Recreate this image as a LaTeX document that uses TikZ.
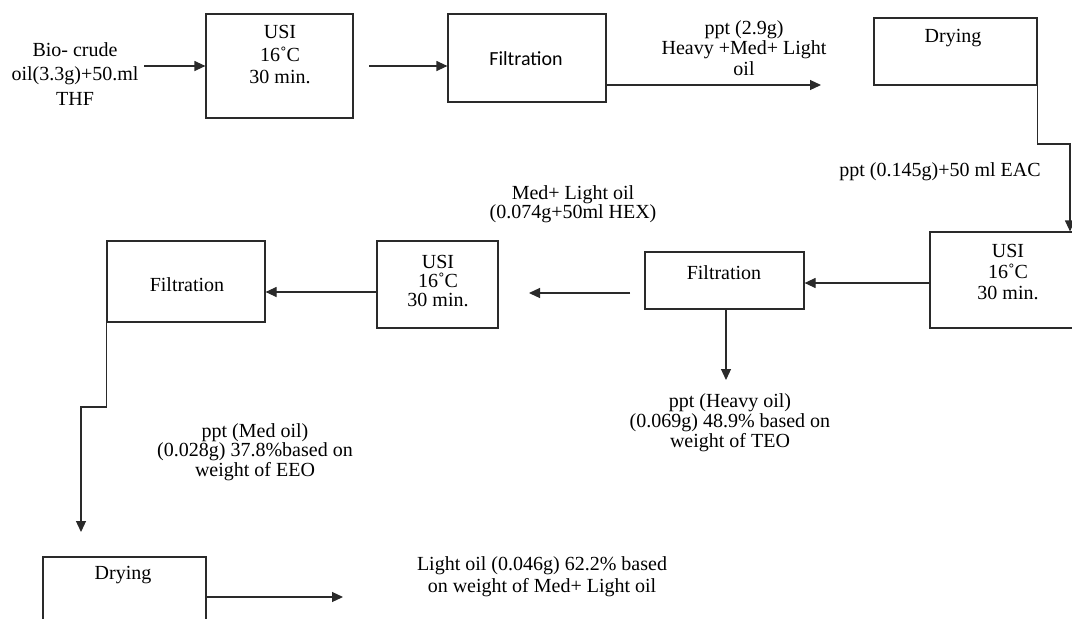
\documentclass[tikz,border=0pt]{standalone}
\usepackage{fontspec}
\setmainfont{Liberation Serif}
\newfontfamily\calib{Carlito}
\usetikzlibrary{arrows.meta}
\newcommand\fsz[1]{\fontsize{20pt}{#1pt}\selectfont}
\definecolor{linec}{HTML}{2A2A2A}
\tikzset{
  box/.style={draw=linec, line width=1.2pt, inner sep=0pt},
  txt/.style={align=center, inner sep=0pt, text=black},
  arr/.style={draw=linec, line width=1.2pt, -{Triangle[length=11pt,width=10pt]}},
  plain/.style={draw=linec, line width=1.2pt}
}
\begin{document}
\begin{tikzpicture}[x=1pt,y=-1pt]
\fill[white] (0,0) rectangle (1072,619);
\clip (0,0) rectangle (1072,619);
\useasboundingbox (0,0) rectangle (1072,619);

% boxes
\node[box, minimum width=147pt, minimum height=104pt] (usi1) at (279.5,66) {};
\node[box, minimum width=158pt, minimum height=88pt] (f1) at (527,58) {};
\node[box, minimum width=163pt, minimum height=67pt] (d1) at (955.5,51.5) {};
\node[box, minimum width=160pt, minimum height=96pt] (usi2) at (1010,280) {};
\node[box, minimum width=159pt, minimum height=57pt] (f2) at (724.5,280.5) {};
\node[box, minimum width=121pt, minimum height=87pt] (usi3) at (437.5,284.5) {};
\node[box, minimum width=158pt, minimum height=81pt] (f3) at (186,281.5) {};
\node[box, minimum width=163pt, minimum height=67pt] (d2) at (124.5,590.5) {};

% texts in boxes
\node[txt, font=\fsz{22.5}] (usi1t) at (280,55) {USI\\16˚C\\30 min.};
\node[txt, font=\calib\fontsize{20pt}{22pt}\selectfont] (f1t) at (526,59) {Filtration};
\node[txt, font=\fsz{21}] (d1t) at (953,38) {Drying};
\node[txt, font=\fsz{21}] (usi2t) at (1008,272) {USI\\16˚C\\30 min.};
\node[txt, font=\fsz{21}] (f2t) at (724,273) {Filtration};
\node[txt, font=\fsz{19}] (usi3t) at (438,281) {USI\\16˚C\\30 min.};
\node[txt, font=\fsz{21}] (f3t) at (187,285) {Filtration};
\node[txt, font=\fsz{21}] (d2t) at (123,575) {Drying};

% free labels
\node[txt, font=\fsz{24.5}] (bio) at (75,74) {Bio- crude\\oil(3.3g)+50.ml\\THF};
\node[txt, font=\fsz{20.5}] (l29) at (744,48) {ppt (2.9g)\\Heavy +Med+ Light\\oil};
\node[txt, font=\fsz{21}] (l145) at (940,172) {ppt (0.145g)+50 ml EAC};
\node[txt, font=\fsz{19.5}] (l074) at (573,204) {Med+ Light oil\\(0.074g+50ml HEX)};
\node[txt, font=\fsz{20}] (lheavy) at (730,423) {ppt (Heavy oil)\\(0.069g) 48.9\% based on\\weight of TEO};
\node[txt, font=\fsz{19.5}] (lmed) at (255,452) {ppt (Med oil)\\(0.028g) 37.8\%based on\\weight of EEO};
\node[txt, font=\fsz{22}] (llight) at (542,577) {Light oil (0.046g) 62.2\% based\\on weight of Med+ Light oil};

% connector end points
\coordinate (a1s) at (144,66);
\coordinate (a2s) at (369,66);
\coordinate (a3e) at (821,85);
\coordinate (k1) at (1070,144);
\coordinate (a6e) at (726,380);
\coordinate (a7s) at (630,293);
\coordinate (a7e) at (529,293);
\coordinate (k2) at (81,407);
\coordinate (a9e) at (81,532);
\coordinate (a10e) at (343,597);

% connectors
\draw[arr] (a1s) -- (a1s -| usi1.west);
\draw[arr] (a2s) -- (a2s -| f1.west);
\draw[arr] ([yshift=-27pt]f1.east) -- (a3e);
\draw[arr] ([yshift=-5.5pt]d1.east) |- (k1) -- (k1 |- usi2.north);
\draw[arr] ([yshift=-3pt]usi2.west) -- ([yshift=-3pt]usi2.west -| f2.east);
\draw[arr] ([xshift=1.5pt]f2.south) -- (a6e);
\draw[arr] (a7s) -- (a7e);
\draw[arr] ([yshift=-7.5pt]usi3.west) -- ([yshift=-7.5pt]usi3.west -| f3.east);
\draw[arr] (f3.west) |- (k2) -- (a9e);
\draw[arr] ([yshift=-6.5pt]d2.east) -- (a10e);
\end{tikzpicture}
\end{document}
